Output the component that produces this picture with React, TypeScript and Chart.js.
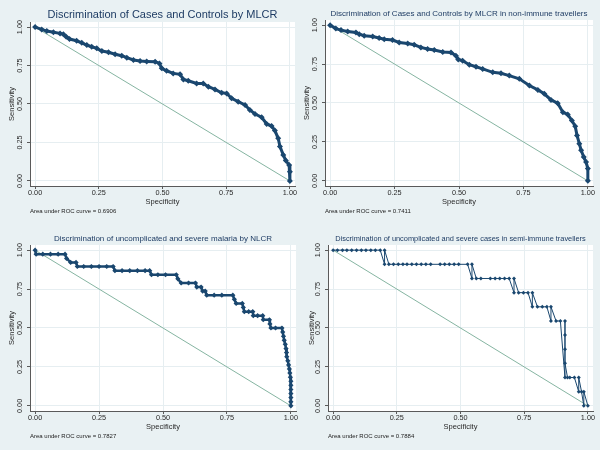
import React, { useEffect, useRef } from "react";
import { Chart, registerables } from "chart.js";

Chart.register(...registerables);

// ---- data -------------------------------------------------------------
const tickValues = [0, 0.25, 0.5, 0.75, 1];
const tickLabels = ["0.00", "0.25", "0.50", "0.75", "1.00"];

const refSpec = [0, 1];
const refSens = [1, 0];

const titles = [
  "Discrimination of Cases and Controls by MLCR",
  "Discrimination of Cases and Controls by MLCR in non-immune travellers",
  "Discrimination of uncomplicated and severe malaria by NLCR",
  "Discrimination of uncomplicated and severe cases in semi-immune travellers",
];
const aucLabels = [
  "Area under ROC curve = 0.6906",
  "Area under ROC curve = 0.7411",
  "Area under ROC curve = 0.7827",
  "Area under ROC curve = 0.7884",
];

const spec1 = [0, 0.026, 0.046, 0.072, 0.098, 0.111, 0.122, 0.135, 0.163, 0.183, 0.203, 0.222, 0.242, 0.262, 0.288, 0.314, 0.34, 0.36, 0.386, 0.412, 0.438, 0.471, 0.488, 0.497, 0.516, 0.542, 0.569, 0.582, 0.601, 0.634, 0.66, 0.68, 0.706, 0.732, 0.752, 0.771, 0.797, 0.824, 0.843, 0.863, 0.889, 0.909, 0.928, 0.941, 0.954, 0.961, 0.974, 0.984, 0.997, 1, 1];
const sens1 = [1, 0.985, 0.974, 0.966, 0.959, 0.953, 0.937, 0.922, 0.911, 0.898, 0.883, 0.872, 0.862, 0.844, 0.836, 0.823, 0.814, 0.801, 0.786, 0.779, 0.777, 0.775, 0.764, 0.732, 0.716, 0.699, 0.693, 0.66, 0.651, 0.634, 0.634, 0.612, 0.595, 0.573, 0.569, 0.537, 0.515, 0.494, 0.461, 0.435, 0.414, 0.37, 0.357, 0.327, 0.277, 0.223, 0.169, 0.132, 0.104, 0.06, 0];

const spec2 = [0, 0.022, 0.042, 0.068, 0.1, 0.113, 0.132, 0.165, 0.19, 0.21, 0.242, 0.268, 0.301, 0.326, 0.352, 0.378, 0.404, 0.437, 0.469, 0.488, 0.497, 0.514, 0.54, 0.566, 0.592, 0.631, 0.663, 0.695, 0.734, 0.773, 0.806, 0.831, 0.857, 0.883, 0.903, 0.922, 0.938, 0.951, 0.958, 0.967, 0.974, 0.984, 0.993, 1, 1];
const sens2 = [1, 0.978, 0.968, 0.959, 0.953, 0.942, 0.932, 0.927, 0.917, 0.91, 0.904, 0.889, 0.882, 0.874, 0.857, 0.847, 0.84, 0.827, 0.825, 0.804, 0.78, 0.772, 0.746, 0.733, 0.719, 0.697, 0.691, 0.676, 0.655, 0.612, 0.584, 0.559, 0.52, 0.499, 0.441, 0.426, 0.388, 0.35, 0.292, 0.239, 0.196, 0.153, 0.121, 0.079, 0];

const spec3 = [0, 0.004, 0.03, 0.06, 0.09, 0.117, 0.123, 0.139, 0.16, 0.165, 0.19, 0.22, 0.25, 0.28, 0.305, 0.312, 0.34, 0.37, 0.4, 0.43, 0.448, 0.455, 0.48, 0.51, 0.552, 0.558, 0.571, 0.6, 0.627, 0.632, 0.649, 0.655, 0.665, 0.671, 0.7, 0.73, 0.773, 0.779, 0.786, 0.81, 0.814, 0.818, 0.835, 0.851, 0.853, 0.87, 0.89, 0.892, 0.916, 0.918, 0.922, 0.94, 0.965, 0.968, 0.971, 0.974, 0.978, 0.981, 0.983, 0.984, 0.988, 0.991, 0.994, 0.996, 0.998, 1, 1, 1, 1, 1, 1, 1];
const sens3 = [1, 0.974, 0.974, 0.974, 0.974, 0.974, 0.947, 0.921, 0.921, 0.895, 0.895, 0.895, 0.895, 0.895, 0.895, 0.868, 0.868, 0.868, 0.868, 0.868, 0.868, 0.842, 0.842, 0.842, 0.842, 0.816, 0.789, 0.789, 0.789, 0.763, 0.763, 0.737, 0.737, 0.711, 0.711, 0.711, 0.711, 0.684, 0.658, 0.658, 0.632, 0.605, 0.605, 0.605, 0.579, 0.579, 0.579, 0.553, 0.553, 0.526, 0.5, 0.5, 0.5, 0.474, 0.447, 0.421, 0.395, 0.368, 0.342, 0.316, 0.289, 0.263, 0.237, 0.211, 0.184, 0.158, 0.132, 0.105, 0.079, 0.053, 0.026, 0];

const spec4 = [0, 0.017, 0.037, 0.054, 0.073, 0.092, 0.111, 0.129, 0.148, 0.166, 0.185, 0.202, 0.202, 0.219, 0.237, 0.256, 0.274, 0.29, 0.309, 0.327, 0.346, 0.364, 0.383, 0.42, 0.438, 0.456, 0.475, 0.493, 0.528, 0.545, 0.545, 0.562, 0.58, 0.617, 0.636, 0.654, 0.673, 0.691, 0.71, 0.71, 0.728, 0.747, 0.765, 0.782, 0.782, 0.802, 0.821, 0.839, 0.855, 0.855, 0.875, 0.892, 0.91, 0.91, 0.91, 0.91, 0.91, 0.92, 0.929, 0.947, 0.964, 0.964, 0.975, 0.984, 0.984, 1];
const sens4 = [1, 1, 1, 1, 1, 1, 1, 1, 1, 1, 1, 0.909, 1, 0.909, 0.909, 0.909, 0.909, 0.909, 0.909, 0.909, 0.909, 0.909, 0.909, 0.909, 0.909, 0.909, 0.909, 0.909, 0.909, 0.818, 0.909, 0.818, 0.818, 0.818, 0.818, 0.818, 0.818, 0.818, 0.727, 0.818, 0.727, 0.727, 0.727, 0.636, 0.727, 0.636, 0.636, 0.636, 0.545, 0.636, 0.545, 0.545, 0.182, 0.545, 0.455, 0.364, 0.273, 0.182, 0.182, 0.182, 0.091, 0.182, 0.091, 0, 0.091, 0];

const specs = [spec1, spec2, spec3, spec4];
const senss = [sens1, sens2, sens3, sens4];

// ---- layout / style ---------------------------------------------------
const FONT = "'Liberation Sans', Arial, Helvetica, sans-serif";
const NAVY = "#1a476f";
const REF = "#86b5a2";
const TITLE = "#1e3c64";
const AXIS = "#5a5a5a";
const GRID = "#e6eef1";
const BG = "#e9f1f3";
const W = 300;
const H = 225;

const panels = [
  { x: 0, y: 0, l: 30, r: 295, t: 22, b: 186, ts: 11, tcy: 15, ycx: 11.7, pr: 3, bw: 3 },
  { x: 300, y: 0, l: 25, r: 293, t: 20, b: 186, ts: 8, tcy: 14, ycx: 7.3, pr: 3, bw: 3 },
  { x: 0, y: 225, l: 30, r: 296, t: 20, b: 186, ts: 8, tcy: 14, ycx: 11.7, pr: 2.6, bw: 2.5 },
  { x: 300, y: 225, l: 28, r: 293, t: 20, b: 186, ts: 7.4, tcy: 14, ycx: 11.7, pr: 2, bw: 1 },
];

const plotBg = {
  id: "plotBg",
  beforeDraw(chart: any) {
    const { ctx, chartArea } = chart;
    ctx.save();
    ctx.fillStyle = "#ffffff";
    ctx.fillRect(chartArea.left, chartArea.top, chartArea.width, chartArea.height);
    ctx.restore();
  },
};

function Panel({ idx }: { idx: number }) {
  const ref = useRef<HTMLCanvasElement>(null);
  const p = panels[idx];
  useEffect(() => {
    if (!ref.current) return;
    const lh = p.ts * 1.2;
    const subCy = 211;
    const subLh = 6 * 1.2;
    const subTop = subCy - subLh / 2;
    const tickFont = { family: FONT, size: 7.3 };
    const fmt = (v: any) => {
      const i = tickValues.indexOf(Number(v));
      return i >= 0 ? tickLabels[i] : "";
    };
    const setTicks = (s: any) => {
      s.ticks = tickValues.map((value) => ({ value }));
    };
    const gridOpts = {
      color: GRID,
      lineWidth: 1,
      tickColor: AXIS,
      tickLength: 3,
      drawTicks: true,
    };
    const chart = new Chart(ref.current, {
      type: "scatter",
      data: {
        datasets: [
          {
            data: refSpec.map((x, i) => ({ x, y: refSens[i] })),
            showLine: true,
            borderColor: REF,
            borderWidth: 1,
            pointRadius: 0,
            order: 2,
          },
          {
            data: specs[idx].map((x, i) => ({ x, y: senss[idx][i] })),
            showLine: true,
            borderColor: NAVY,
            borderWidth: p.bw,
            pointStyle: "rectRot",
            pointRadius: p.pr,
            pointBackgroundColor: NAVY,
            pointBorderColor: NAVY,
            pointBorderWidth: 0,
            order: 1,
          },
        ],
      },
      options: {
        responsive: false,
        animation: false,
        events: [],
        layout: { padding: { top: 0, left: 0, right: W - p.r, bottom: H - subCy - subLh / 2 } },
        plugins: {
          legend: { display: false },
          tooltip: { enabled: false },
          title: {
            display: true,
            text: titles[idx],
            color: TITLE,
            fullSize: false,
            font: { family: FONT, size: p.ts, weight: "normal" },
            padding: { top: p.tcy - lh / 2, bottom: p.t - (p.tcy + lh / 2) },
          },
          subtitle: {
            display: true,
            position: "bottom",
            align: "start",
            fullSize: false,
            text: aucLabels[idx],
            color: "#222222",
            font: { family: FONT, size: 6 },
            padding: { top: 0, bottom: 0 },
          },
        },
        scales: {
          x: {
            type: "linear",
            min: -0.02,
            max: 1.02,
            afterBuildTicks: setTicks,
            afterFit: (s: any) => {
              s.height = subTop - p.b;
              s.paddingLeft = 0;
              s.paddingRight = 0;
            },
            ticks: {
              callback: fmt,
              font: tickFont,
              color: "#2a2a2a",
              padding: 0,
              autoSkip: false,
              minRotation: 0,
              maxRotation: 0,
            },
            grid: gridOpts,
            border: { display: true, color: AXIS, width: 1 },
            title: {
              display: true,
              text: "Specificity",
              color: "#2a2a2a",
              font: { family: FONT, size: 7.5 },
              padding: { top: 0, bottom: subTop - 202 - 4.5 },
            },
          },
          y: {
            type: "linear",
            min: -0.033,
            max: 1.033,
            afterBuildTicks: setTicks,
            afterFit: (s: any) => {
              s.width = p.l;
              s.paddingTop = 0;
              s.paddingBottom = 0;
            },
            ticks: {
              callback: fmt,
              font: tickFont,
              color: "#2a2a2a",
              padding: 0,
              autoSkip: false,
              minRotation: 90,
              maxRotation: 90,
              crossAlign: "center",
            },
            grid: gridOpts,
            border: { display: true, color: AXIS, width: 1 },
            title: {
              display: true,
              text: "Sensitivity",
              color: "#2a2a2a",
              font: { family: FONT, size: 7.5 },
              padding: { top: p.ycx - 4.5, bottom: 0 },
            },
          },
        },
      } as any,
      plugins: [plotBg],
    });
    return () => chart.destroy();
  }, []);
  return (
    <div style={{ position: "absolute", left: p.x, top: p.y, width: W, height: H }}>
      <canvas ref={ref} width={W} height={H} style={{ width: W, height: H, display: "block" }} />
    </div>
  );
}

export default function App() {
  return (
    <div
      style={{
        position: "absolute",
        left: 0,
        top: 0,
        width: 600,
        height: 450,
        background: BG,
        overflow: "hidden",
      }}
    >
      {panels.map((_, i) => (
        <Panel key={i} idx={i} />
      ))}
    </div>
  );
}
